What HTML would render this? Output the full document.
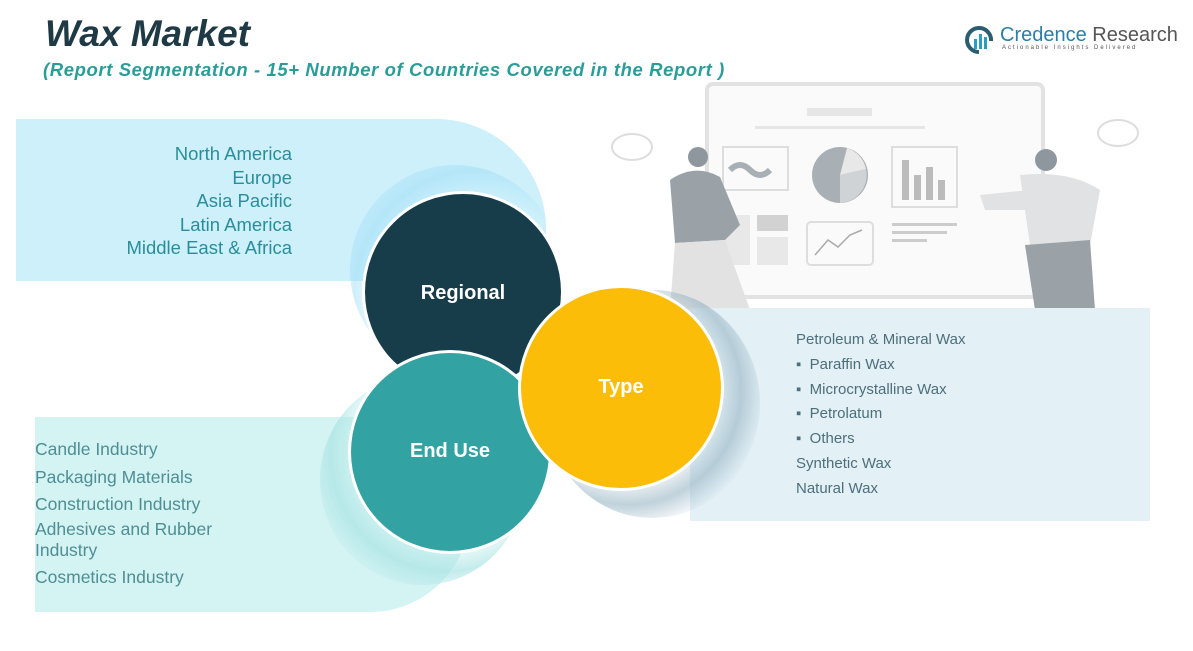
<!DOCTYPE html>
<html><head><meta charset="utf-8"><style>
body{margin:0;width:1193px;height:651px;overflow:hidden;background:#fff;font-family:"Liberation Sans",sans-serif;position:relative}
.a{position:absolute}
.t{font-size:18.5px;color:#2a8e9a;line-height:23.5px}
.r{font-size:15px;color:#4d6f7a;line-height:24.8px}
.l{font-size:17.5px;color:#4f8e94;line-height:27.5px}
</style></head><body>
<div class="a" style="left:45px;top:13px;font-size:37px;font-weight:bold;font-style:italic;color:#1f3945">Wax Market</div>
<div class="a" style="left:43px;top:59px;font-size:18.5px;font-weight:bold;font-style:italic;color:#2a9d98;letter-spacing:0.6px">(Report Segmentation - 15+ Number of Countries Covered in the Report )</div>
<div class="a" style="left:1000px;top:24px;font-size:20px;color:#2a7fa8">Credence <span style="color:#555">Research</span></div>
<div class="a" style="left:1002px;top:45px;font-size:6px;color:#555;letter-spacing:2px">Actionable Insights Delivered</div>
<svg class="a" style="left:965px;top:25px" width="32" height="30"><path d="M14 27 A12 12 0 1 1 26 16" fill="none" stroke="#2a5d70" stroke-width="4"/><rect x="9" y="14" width="3" height="10" fill="#2a9dc0"/><rect x="14" y="9" width="3" height="15" fill="#2a9dc0"/><rect x="19" y="12" width="3" height="12" fill="#2a9dc0"/></svg>

<svg class="a" style="left:600px;top:75px" width="593" height="240">
<rect x="107" y="9" width="336" height="213" rx="6" fill="#fafafa" stroke="#e2e2e2" stroke-width="4"/>
<rect x="207" y="33" width="65" height="8" fill="#e6e6e6"/><rect x="155" y="51" width="170" height="3" fill="#e6e6e6"/>
<rect x="123" y="72" width="65" height="43" fill="none" stroke="#ddd" stroke-width="2"/>
<path d="M130 95 Q140 85 150 95 T170 95" stroke="#a8b0b5" stroke-width="6" fill="none"/>
<circle cx="240" cy="100" r="28" fill="#a8b0b5"/><path d="M240 100 L247 73 A28 28 0 0 1 266 94Z" fill="#e8e8e8"/><path d="M240 100 L266 94 A28 28 0 0 1 240 128Z" fill="#d0d3d5"/>
<rect x="292" y="72" width="65" height="60" fill="none" stroke="#ddd" stroke-width="2"/>
<rect x="302" y="85" width="7" height="40" fill="#bbb"/><rect x="314" y="100" width="7" height="25" fill="#bbb"/><rect x="326" y="92" width="7" height="33" fill="#bbb"/><rect x="338" y="105" width="7" height="20" fill="#bbb"/>
<rect x="123" y="140" width="27" height="50" fill="#e8e8e8"/><rect x="157" y="140" width="31" height="16" fill="#d2d2d2"/><rect x="157" y="162" width="31" height="28" fill="#e8e8e8"/>
<rect x="207" y="147" width="66" height="43" rx="4" fill="none" stroke="#ddd" stroke-width="2"/>
<polyline points="215,180 228,165 238,172 250,160 262,155" fill="none" stroke="#aaa" stroke-width="1.5"/>
<rect x="292" y="148" width="65" height="3" fill="#ccc"/><rect x="292" y="156" width="55" height="3" fill="#ccc"/><rect x="292" y="164" width="35" height="3" fill="#ccc"/>
<ellipse cx="32" cy="72" rx="20" ry="13" fill="#fff" stroke="#ddd" stroke-width="2"/><ellipse cx="518" cy="58" rx="20" ry="13" fill="#fff" stroke="#ddd" stroke-width="2"/>
<circle cx="98" cy="82" r="10" fill="#8f979e"/><path d="M70 105 Q95 88 120 102 L140 150 L125 165 L75 168Z" fill="#9aa2a8"/><path d="M75 168 L125 165 L150 235 L70 235Z" fill="#e2e2e2"/>
<circle cx="446" cy="85" r="11" fill="#8f979e"/><path d="M420 100 Q470 95 500 115 L490 170 L430 170Z" fill="#e0e2e3"/><path d="M380 120 L430 115 L430 135 L385 135Z" fill="#e0e2e3"/><path d="M425 170 L490 165 L495 235 L435 235Z" fill="#9aa2a8"/>
</svg>

<div class="a" style="left:16px;top:119px;width:530px;height:162px;background:#cdf0fb;border-top-right-radius:110px"></div>
<div class="a" style="left:350px;top:165px;width:210px;height:210px;border-radius:50%;background:radial-gradient(circle at 62% 62%,rgba(160,220,245,0) 52%,rgba(150,218,245,0.45) 68%,rgba(205,240,251,0) 90%)"></div>
<div class="a" style="left:690px;top:308px;width:460px;height:213px;background:#e3f0f6"></div>
<div class="a" style="left:545px;top:290px;width:215px;height:228px;border-radius:50%;background:radial-gradient(circle at 38% 44%,rgba(0,0,0,0) 46%,rgba(150,180,195,0.6) 62%,rgba(227,240,246,0) 76%)"></div>
<div class="a" style="left:35px;top:417px;width:435px;height:195px;background:#d4f3f3;border-bottom-right-radius:100px"></div>
<div class="a" style="left:320px;top:375px;width:205px;height:210px;border-radius:50%;background:radial-gradient(circle at 62% 38%,rgba(0,0,0,0) 47%,rgba(170,228,228,0.7) 64%,rgba(212,243,243,0) 80%)"></div>

<div class="a" style="left:362px;top:191px;width:202px;height:202px;border-radius:50%;background:#173c4a;border:3px solid #fff;box-sizing:border-box"></div>
<div class="a" style="left:362px;top:282px;width:202px;text-align:center;color:#fff;font-weight:bold;font-size:20px">Regional</div>
<div class="a" style="left:348px;top:350px;width:204px;height:204px;border-radius:50%;background:#33a2a2;border:3px solid #fff;box-sizing:border-box"></div>
<div class="a" style="left:348px;top:440px;width:204px;text-align:center;color:#fff;font-weight:bold;font-size:20px">End Use</div>
<div class="a" style="left:518px;top:285px;width:206px;height:206px;border-radius:50%;background:#fbbd08;border:3px solid #fff;box-sizing:border-box"></div>
<div class="a" style="left:518px;top:376px;width:206px;text-align:center;color:#fff;font-weight:bold;font-size:20px">Type</div>

<div class="a t" style="right:901px;top:142px;text-align:right">North America<br>Europe<br>Asia Pacific<br>Latin America<br>Middle East &amp; Africa</div>
<div class="a r" style="left:796px;top:328px">Petroleum &amp; Mineral Wax<br>▪ &nbsp;Paraffin Wax<br>▪ &nbsp;Microcrystalline Wax<br>▪ &nbsp;Petrolatum<br>▪ &nbsp;Others<br>Synthetic Wax<br>Natural Wax</div>
<div class="a l" style="left:35px;top:436px">Candle Industry<br>Packaging Materials<br>Construction Industry<br><span style="line-height:21px;display:inline-block">Adhesives and Rubber<br>Industry</span><br>Cosmetics Industry</div>
</body></html>
